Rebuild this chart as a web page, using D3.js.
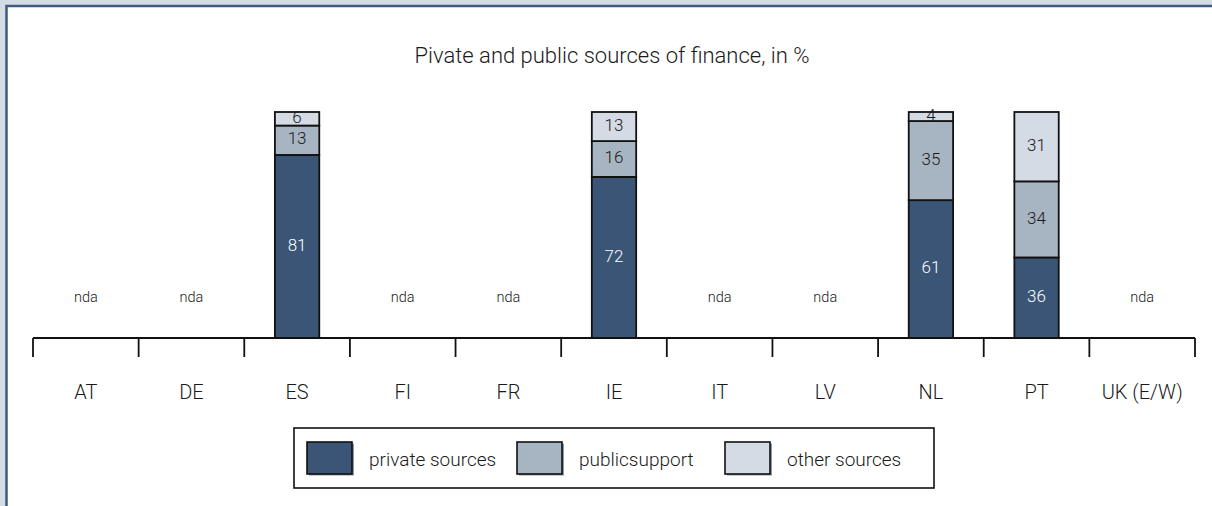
<!DOCTYPE html>
<html><head><meta charset="utf-8">
<script src="https://cdn.jsdelivr.net/npm/d3@7"></script>
<style>
html,body{margin:0;padding:0;background:#d3dbe3;overflow:hidden;}
svg{display:block;}
text{font-family:"Roboto","Liberation Sans Narrow","DejaVu Sans Condensed",sans-serif;font-weight:300;}
</style></head>
<body>
<svg id="chart" width="1212" height="506"></svg>
<script>
const categories = ["AT","DE","ES","FI","FR","IE","IT","LV","NL","PT","UK (E/W)"];
const privateSources = [null,null,81,null,null,72,null,null,61,36,null];
const publicSupport  = [null,null,13,null,null,16,null,null,35,34,null];
const otherSources   = [null,null,6,null,null,13,null,null,4,31,null];
const seriesNames = ["private sources","public support","other sources"];
const legendLabels = ["private sources","publicsupport","other sources"];
const seriesColors = ["#3a5575","#a7b4c2","#d4dbe4"];
const title = "Pivate and public sources of finance, in %";
const noDataLabel = "nda";

const svg = d3.select("#chart");
// frame
svg.append("rect").attr("x",0).attr("y",0).attr("width",1212).attr("height",506).attr("fill","#d3dbe3");
svg.append("rect").attr("x",6.5).attr("y",6).attr("width",1400).attr("height",700).attr("fill","#fff")
  .attr("stroke","#3e5b80").attr("stroke-width",2.5);

const rows = categories.map((c,i)=>({cat:c, "private sources":privateSources[i], "public support":publicSupport[i], "other sources":otherSources[i], has: privateSources[i]!=null}));

const x = d3.scaleBand().domain(categories).range([33,1195]).paddingInner(0).paddingOuter(0);
const y = d3.scaleLinear().domain([0,1]).range([338,112]);

const stack = d3.stack().keys(seriesNames).value((d,k)=>d[k]||0).offset(d3.stackOffsetExpand);
const stacked = stack(rows.filter(r=>r.has));

svg.append("text").attr("x",612).attr("y",63).attr("text-anchor","middle")
  .attr("font-size",22).attr("fill","#1a1a1a").text(title);

const barW = x.bandwidth()*0.42;
stacked.forEach((layer,li)=>{
  const g = svg.append("g");
  g.selectAll("rect").data(layer).join("rect")
    .attr("x",d=>x(d.data.cat)+x.bandwidth()/2-barW/2)
    .attr("y",d=>y(d[1]))
    .attr("width",barW)
    .attr("height",d=>y(d[0])-y(d[1]))
    .attr("fill",seriesColors[li]).attr("stroke","#111").attr("stroke-width",1.8);
  g.selectAll("text").data(layer).join("text")
    .attr("x",d=>x(d.data.cat)+x.bandwidth()/2)
    .attr("y",d=>(y(d[0])+y(d[1]))/2 - 2)
    .attr("dy","0.36em").attr("text-anchor","middle").attr("font-size",17)
    .attr("fill",li===0?"#fff":"#1a1a1a")
    .text(d=>d.data[seriesNames[li]]);
});

// nda labels
svg.append("g").selectAll("text").data(rows.filter(r=>!r.has)).join("text")
  .attr("x",d=>x(d.cat)+x.bandwidth()/2).attr("y",297).attr("dy","0.36em")
  .attr("text-anchor","middle").attr("font-size",14.5).attr("fill","#1a1a1a").text(noDataLabel);

// axis
const ax = svg.append("g");
ax.append("line").attr("x1",x.range()[0]).attr("x2",x.range()[1]).attr("y1",338).attr("y2",338)
  .attr("stroke","#111").attr("stroke-width",1.8);
const bounds = categories.map(c=>x(c)).concat([x.range()[1]]);
ax.selectAll("line.t").data(bounds).join("line").attr("class","t")
  .attr("x1",d=>d).attr("x2",d=>d).attr("y1",338).attr("y2",357).attr("stroke","#111").attr("stroke-width",1.8);
ax.selectAll("text").data(categories).join("text")
  .attr("x",d=>x(d)+x.bandwidth()/2).attr("y",399)
  .attr("text-anchor","middle").attr("font-size",20).attr("fill","#1a1a1a").text(d=>d);

// legend
const lg = svg.append("g");
lg.append("rect").attr("x",294).attr("y",428).attr("width",640).attr("height",60)
  .attr("fill","#fff").attr("stroke","#111").attr("stroke-width",1.6);
const lx = [307,517,725];
seriesNames.forEach((s,i)=>{
  lg.append("rect").attr("x",lx[i]+2).attr("y",443.5).attr("width",45).attr("height",32).attr("fill",seriesColors[0]).attr("opacity",0.6);
  lg.append("rect").attr("x",lx[i]).attr("y",442).attr("width",45).attr("height",32)
    .attr("fill",seriesColors[i]).attr("stroke","#111").attr("stroke-width",1.6);
  lg.append("text").attr("x",lx[i]+62).attr("y",465.5).attr("font-size",19).attr("fill","#1a1a1a").text(legendLabels[i]);
});
</script>
</body></html>
